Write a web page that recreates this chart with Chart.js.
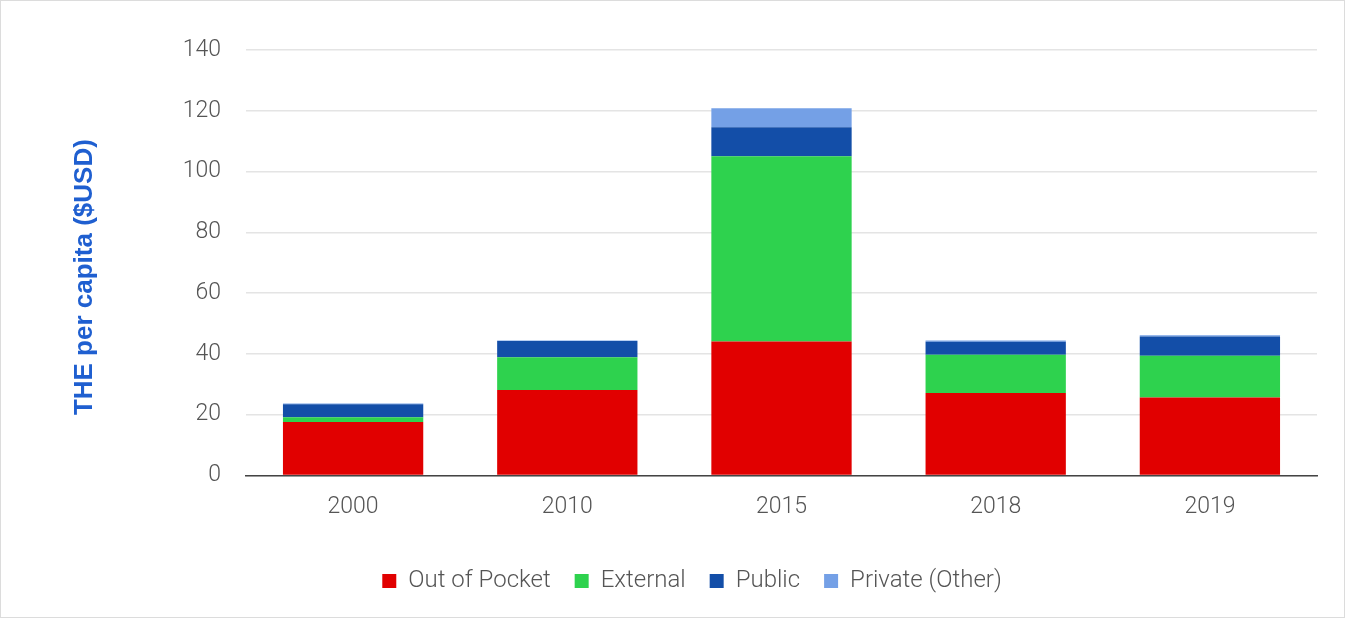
<!DOCTYPE html>
<html>
<head>
<meta charset="utf-8">
<script src="https://cdn.jsdelivr.net/npm/chart.js@4"></script>
<style>
  html, body { margin: 0; padding: 0; background: #fff; }
  #wrap { width: 1343px; height: 616px; border: 1px solid #dcdcdc; }
</style>
</head>
<body>
<div id="wrap"><canvas id="chart"></canvas></div>
<script>
const years = ['2000', '2010', '2015', '2018', '2019'];
const outOfPocket = [17.6, 28.1, 44.1, 27.1, 25.6];
const external = [1.5, 10.8, 60.9, 12.6, 13.8];
const publicSpend = [4.3, 5.3, 9.6, 4.3, 6.3];
const privateOther = [0.3, 0.2, 6.2, 0.4, 0.4];

Chart.defaults.font.family = 'Roboto, "Liberation Sans", sans-serif';
Chart.defaults.font.weight = '300';
Chart.defaults.color = '#555';

const ctx = document.getElementById('chart');
new Chart(ctx, {
    type: 'bar',
    data: {
        labels: years,
        datasets: [{
            label: 'Out of Pocket',
            data: outOfPocket,
            backgroundColor: '#e10000'
        }, {
            label: 'External',
            data: external,
            backgroundColor: '#2ed24e'
        }, {
            label: 'Public',
            data: publicSpend,
            backgroundColor: '#134ea8'
        }, {
            label: 'Private (Other)',
            data: privateOther,
            backgroundColor: '#74a0e6'
        }]
    },
    options: {
        responsive: true,
        maintainAspectRatio: false,
        animation: false,
        datasets: {
            bar: { barPercentage: 0.655, categoryPercentage: 1 }
        },
        layout: {
            padding: { left: 66, right: 27, top: 49, bottom: 14 }
        },
        plugins: {
            tooltip: { enabled: false },
            legend: {
                position: 'bottom',
                labels: {
                    boxWidth: 14,
                    boxHeight: 14,
                    padding: 24,
                    color: '#555',
                    font: { size: 24 }
                }
            }
        },
        scales: {
            x: {
                stacked: true,
                afterFit: function(scale) { scale.height += 6; },
                grid: { display: false, drawTicks: false },
                border: { color: '#444', width: 1.5 },
                ticks: { padding: 18, color: '#555', font: { size: 23 } }
            },
            y: {
                stacked: true,
                min: 0,
                max: 140,
                afterFit: function(scale) { scale.width = 179; },
                border: { display: false },
                grid: { color: '#e4e4e4', lineWidth: 1.5, drawTicks: false },
                ticks: { stepSize: 20, padding: 25, color: '#555', font: { size: 23 } },
                title: {
                    display: true,
                    // trailing spaces nudge the rotated title a little lower
                    text: 'THE per capita ($USD)    ',
                    color: '#1f5fd0',
                    padding: { top: 2, bottom: 0 },
                    font: { family: '"Liberation Sans", Arial, sans-serif', size: 26, weight: 'bold' }
                }
            }
        }
    }
});
</script>
</body>
</html>
